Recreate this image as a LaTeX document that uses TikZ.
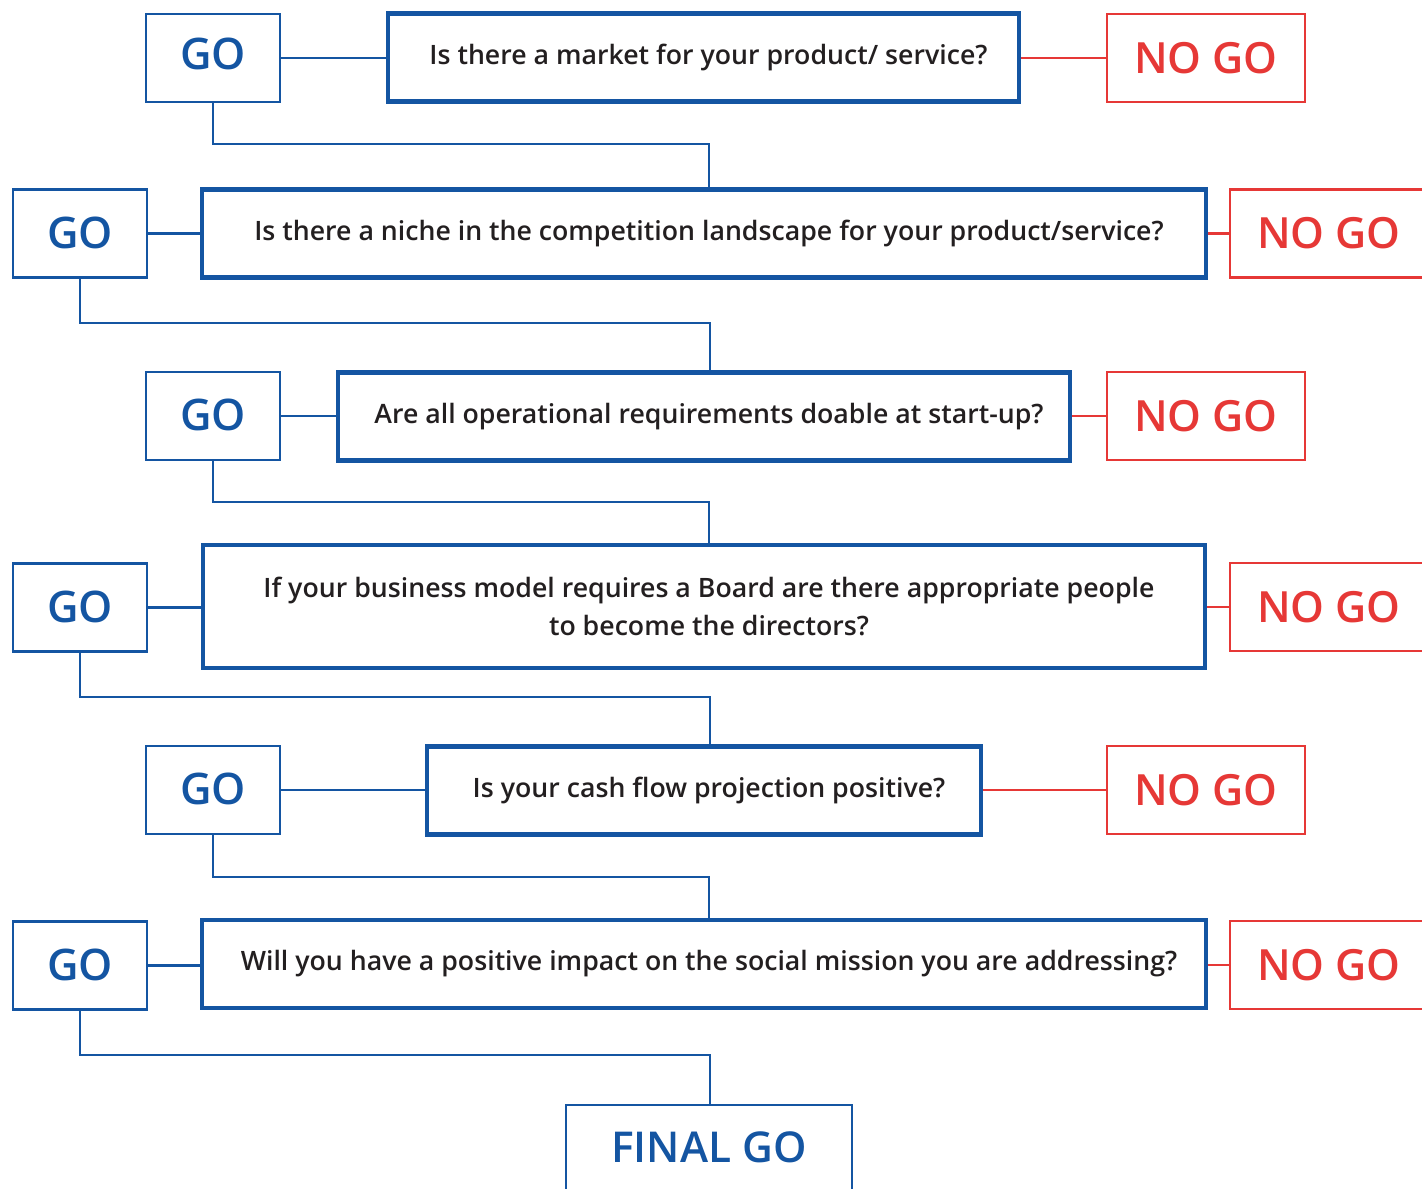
\documentclass[tikz,border=0pt]{standalone}
\usepackage{fontspec}
\setmainfont{Open Sans}
\def\qsize{27.4}
\IfFontExistsTF{Open Sans Semibold}{\newfontfamily\sbfont{Open Sans Semibold}\def\qsize{26.7}}{%
 \IfFontExistsTF{Open Sans SemiBold}{\newfontfamily\sbfont{Open Sans SemiBold}\def\qsize{26.7}}{%
  \newfontfamily\sbfont{Open Sans}}}
\definecolor{goblue}{RGB}{20,85,162}
\definecolor{nored}{RGB}{230,56,54}
\definecolor{txt}{RGB}{35,31,32}
\newcommand{\qs}{\hspace*{10pt}}
\tikzset{
  gobox/.style={draw=goblue, line width=2.5pt, minimum width=134pt, minimum height=88pt, inner sep=0pt, text=goblue, text height=31pt, text depth=2pt, font=\sbfont\fontsize{43.5}{48}\selectfont},
  nobox/.style={draw=nored, line width=2.5pt, minimum width=198pt, minimum height=88pt, inner sep=0pt, text=nored, font=\sbfont\fontsize{43}{48}\selectfont},
  qbox/.style={draw=goblue, line width=4.5pt, minimum height=88pt, inner sep=0pt, text=txt, align=center, font=\sbfont\fontsize{\qsize}{38}\selectfont},
  bl/.style={draw=goblue, line width=2.5pt},
  rl/.style={draw=nored, line width=2.5pt},
}
\begin{document}
\begin{tikzpicture}[x=1pt,y=-1pt]
\useasboundingbox (0,0) rectangle (1422,1189);
\clip (0,0) rectangle (1422,1189);
% row 1
\node[gobox, text depth=8pt] (go1) at (213,58) {GO};
\node[qbox, minimum width=631pt] (q1) at (703.5,57.5) {\qs Is there a market for your product/ service?};
\node[nobox] (no1) at (1206,58) {NO GO};
% row 2
\node[gobox] (go2) at (80,233.5) {GO};
\node[qbox, minimum width=1004pt] (q2) at (704,233.5) {\qs Is there a niche in the competition landscape for your product/service?};
\node[nobox] (no2) at (1329,233.5) {NO GO};
% row 3
\node[gobox] (go3) at (213,416) {GO};
\node[qbox, minimum width=732pt] (q3) at (704,416.5) {\qs Are all operational requirements doable at start-up?};
\node[nobox] (no3) at (1206,416) {NO GO};
% row 4
\node[gobox] (go4) at (80,607.5) {GO};
\node[qbox, minimum width=1002pt, minimum height=123pt] (q4) at (704,606.5) {\qs If your business model requires a Board are there appropriate people\\\qs to become the directors?};
\node[nobox] (no4) at (1329,607) {NO GO};
% row 5
\node[gobox] (go5) at (213,790) {GO};
\node[qbox, minimum width=554pt] (q5) at (704,790.5) {\qs Is your cash flow projection positive?};
\node[nobox] (no5) at (1206,790) {NO GO};
% row 6
\node[gobox] (go6) at (80,965.5) {GO};
\node[qbox, minimum width=1004pt] (q6) at (704,964) {\qs Will you have a positive impact on the social mission you are addressing?};
\node[nobox] (no6) at (1329,965) {NO GO};
% final
\node[gobox, minimum width=286pt, text depth=4pt, font=\sbfont\fontsize{42.5}{48}\selectfont] (fin) at (709,1149) {FINAL GO};
% junctions
\coordinate (j1) at (709,144);
\coordinate (j2) at (710,323);
\coordinate (j3) at (709,502);
\coordinate (j4) at (710,697);
\coordinate (j5) at (709,877);
\coordinate (j6) at (710,1055);
% horizontal connectors
\draw[bl] (go1.east) -- (go1.east -| q1.west);
\draw[rl] (q1.east |- no1.west) -- (no1.west);
\draw[bl] (go2.east) -- (go2.east -| q2.west);
\draw[rl] (q2.east |- no2.west) -- (no2.west);
\draw[bl] (go3.east) -- (go3.east -| q3.west);
\draw[rl] (q3.east |- no3.west) -- (no3.west);
\draw[bl] (go4.east) -- (go4.east -| q4.west);
\draw[rl] (q4.east |- no4.west) -- (no4.west);
\draw[bl] (go5.east) -- (go5.east -| q5.west);
\draw[rl] (q5.east |- no5.west) -- (no5.west);
\draw[bl] (go6.east) -- (go6.east -| q6.west);
\draw[rl] (q6.east |- no6.west) -- (no6.west);
% step connectors
\draw[bl] (go1.south) |- (j1) -- (j1 |- q2.north);
\draw[bl] (go2.south) |- (j2) -- (j2 |- go3.north);
\draw[bl] (go3.south) |- (j3) -- (j3 |- q4.north);
\draw[bl] (go4.south) |- (j4) -- (j4 |- go5.north);
\draw[bl] (go5.south) |- (j5) -- (j5 |- q6.north);
\draw[bl] (go6.south) |- (j6) -- (j6 |- fin.north);
\end{tikzpicture}
\end{document}
